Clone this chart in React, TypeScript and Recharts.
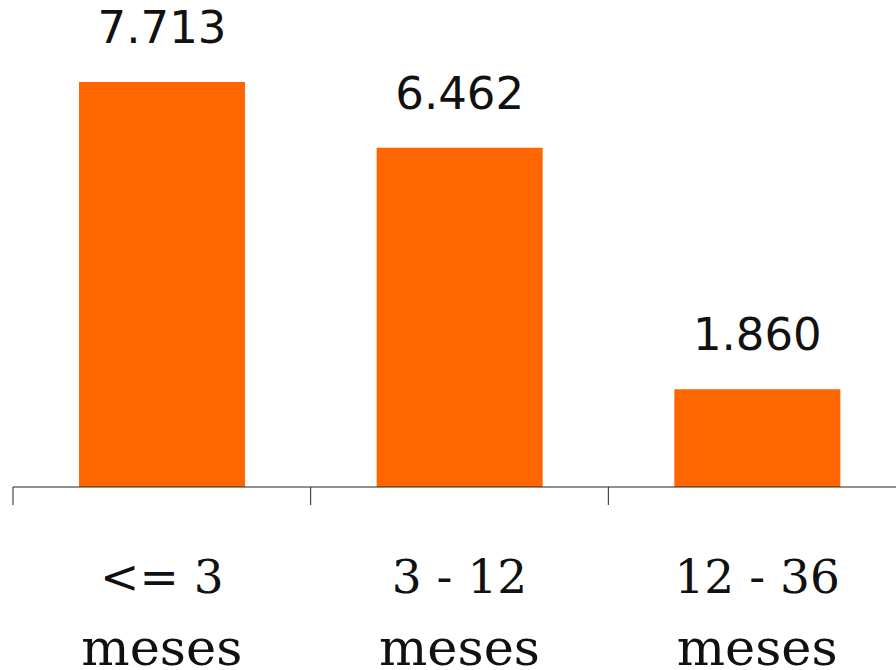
import React from "react";
import { BarChart, Bar, XAxis, YAxis, LabelList } from "recharts";

const categories = ["<= 3", "3 - 12", "12 - 36"];
const unitLabel = "meses";
const values = [7713, 6462, 1860];

const BAR_COLOR = "#ff6600";

const data = categories.map((name, i) => ({ name, value: values[i] }));

// thousands separator with a dot, as in "7.713"
const formatValue = (v: number) =>
  String(v).replace(/\B(?=(\d{3})+(?!\d))/g, ".");

// tick drawn at the left edge of each band, label centred in the band
function CategoryTick(props: any) {
  const { x, y, payload } = props;
  const half = payload.offset ?? 0;
  return (
    <g>
      <line
        x1={x - half}
        x2={x - half}
        y1={y}
        y2={y + 18}
        stroke="#222"
        strokeWidth={1}
      />
      <text
        x={x}
        y={y + 106}
        textAnchor="middle"
        fontFamily="'DejaVu Serif', serif"
        fontSize={47}
        fill="#111"
      >
        {payload.value}
      </text>
      <text
        x={x}
        y={y + 178}
        textAnchor="middle"
        fontFamily="'DejaVu Serif', serif"
        fontSize={51}
        fill="#111"
      >
        {unitLabel}
      </text>
    </g>
  );
}

export default function App() {
  return (
    <div
      style={{
        position: "absolute",
        left: 0,
        top: 0,
        width: 896,
        height: 670,
        overflow: "hidden",
        background: "#fff",
      }}
    >
      <BarChart
        width={906}
        height={670}
        data={data}
        margin={{ top: 67, right: 0, bottom: 0, left: 13 }}
        barCategoryGap={66}
      >
        <XAxis
          dataKey="name"
          height={183}
          axisLine={{ stroke: "#222", strokeWidth: 1 }}
          tickLine={false}
          tickSize={0}
          tickMargin={0}
          interval={0}
          tick={<CategoryTick />}
        />
        <YAxis hide domain={[0, 8000]} />
        <Bar dataKey="value" fill={BAR_COLOR} isAnimationActive={false}>
          <LabelList
            dataKey="value"
            position="top"
            offset={39}
            formatter={(v: any) => formatValue(Number(v))}
            style={{
              fontFamily: "'DejaVu Sans', sans-serif",
              fontSize: 45,
              fill: "#111",
            }}
          />
        </Bar>
      </BarChart>
    </div>
  );
}
